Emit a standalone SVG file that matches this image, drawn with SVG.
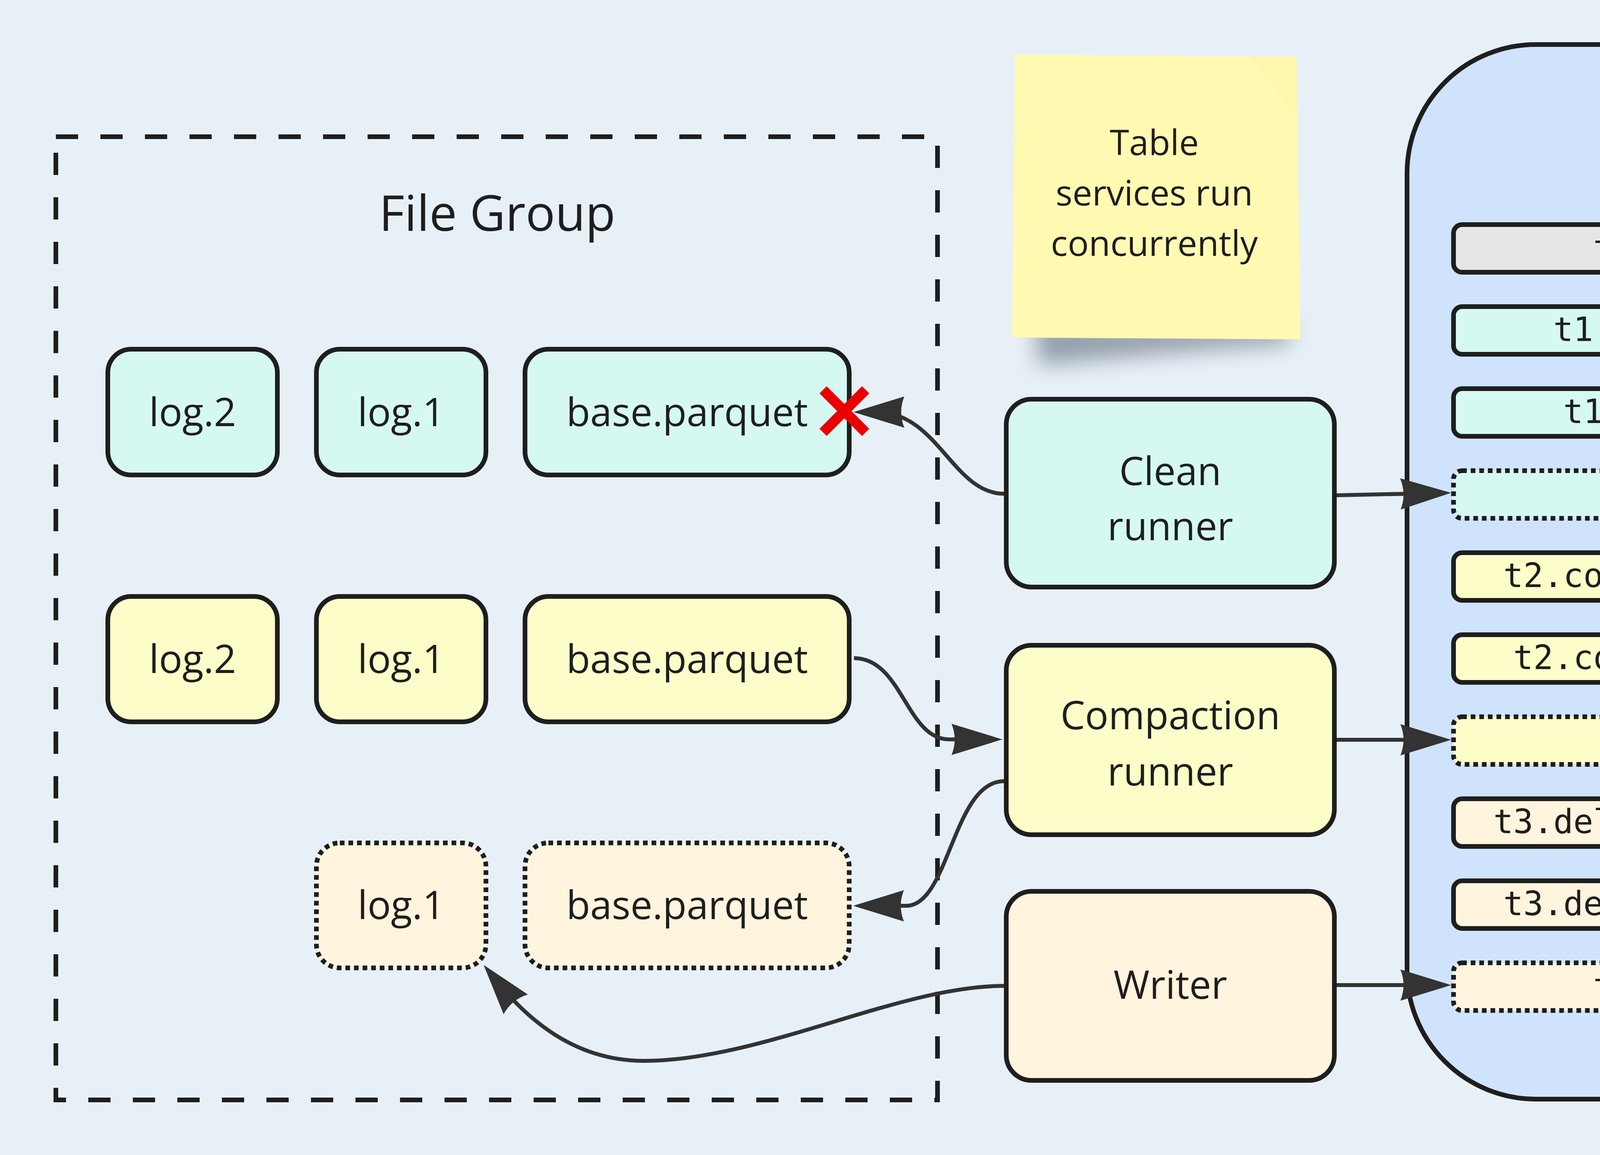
<svg xmlns="http://www.w3.org/2000/svg" width="5409" height="2957" viewBox="0 0 5409 2957">
<style>
.bg{fill:#e8f0f7}
.node{stroke:#1e1e1e;stroke-width:12}
.dotted{stroke-dasharray:12 10}
.cyan{fill:#d6f8f2}
.yellow{fill:#fdfdc9}
.orange{fill:#fff4dd}
.gray{fill:#e6e6e6}
.lbl{font-family:"Open Sans","Noto Sans",sans-serif;font-size:100px;fill:#1e1e1e;text-anchor:middle}
.note{font-size:90px}
.title{font-family:"Open Sans","Noto Sans",sans-serif;font-size:126px;fill:#1e1e1e;text-anchor:middle}
.mono{font-family:"DejaVu Sans Mono","Liberation Mono",monospace;font-size:85px;fill:#1e1e1e;text-anchor:middle}
.edge{fill:none;stroke:#333333;stroke-width:10}
</style>
<defs>
<marker id="ah" markerUnits="userSpaceOnUse" viewBox="-140 -50 150 100" markerWidth="150" markerHeight="100" refX="-60" refY="0" orient="auto">
<path d="M0,0 L-130,-40 Q-114,0 -130,40 Z" fill="#333333"/>
</marker>
<filter id="shadow" x="-30%" y="-150%" width="160%" height="400%">
<feGaussianBlur stdDeviation="28"/>
</filter>
</defs>
<rect class="bg" x="0" y="0" width="5409" height="2957"/>

<g id="file-group">
<rect x="143" y="350" width="2257" height="2466" fill="none" stroke="#1e1e1e" stroke-width="12" stroke-dasharray="57 57"/>
<text class="title" x="1273" y="591">File Group</text>
</g>

<g id="sticky-note">
<path d="M2650,830 L3300,830 L3300,880 Q3000,900 2660,935 Z" fill="#5a6878" opacity="0.6" filter="url(#shadow)"/>
<polygon points="2598,139 3319,146 3329,869 2591,864" fill="#fff9b2"/>
<polygon points="3200,145 3319,146 3322,300" fill="#fcf5aa" opacity="0.7"/>
<text class="lbl note" x="2955" y="397">Table</text>
<text class="lbl note" x="2955" y="526">services run</text>
<text class="lbl note" x="2955" y="655">concurrently</text>
</g>

<g id="timeline">
<rect x="3602" y="114" width="1669" height="2700" rx="330" ry="330" fill="#cfe3fd" stroke="#1e1e1e" stroke-width="12"/>
<text class="title" x="4435" y="325">Timeline</text>
</g>

<g id="t0-deltacommit"><rect class="node gray" x="3721" y="575" width="1432" height="122" rx="22"/><text class="mono" x="4437" y="663">t0.deltacommit</text></g>
<g id="t1-clean-requested"><rect class="node cyan" x="3721" y="785" width="1432" height="122" rx="22"/><text class="mono" x="4437" y="873">t1.clean.requested</text></g>
<g id="t1-clean-inflight"><rect class="node cyan" x="3721" y="995" width="1432" height="122" rx="22"/><text class="mono" x="4437" y="1083">t1.clean.inflight</text></g>
<g id="t1-clean"><rect class="node cyan dotted" x="3721" y="1205" width="1432" height="122" rx="22"/><text class="mono" x="4437" y="1293">t1.clean</text></g>
<g id="t2-compaction-requested"><rect class="node yellow" x="3721" y="1415" width="1432" height="122" rx="22"/><text class="mono" x="4437" y="1503">t2.compaction.requested</text></g>
<g id="t2-compaction-inflight"><rect class="node yellow" x="3721" y="1625" width="1432" height="122" rx="22"/><text class="mono" x="4437" y="1713">t2.compaction.inflight</text></g>
<g id="t2-commit"><rect class="node yellow dotted" x="3721" y="1835" width="1432" height="122" rx="22"/><text class="mono" x="4437" y="1923">t2.commit</text></g>
<g id="t3-deltacommit-requested"><rect class="node orange" x="3721" y="2045" width="1432" height="122" rx="22"/><text class="mono" x="4437" y="2133">t3.deltacommit.requested</text></g>
<g id="t3-deltacommit-inflight"><rect class="node orange" x="3721" y="2255" width="1432" height="122" rx="22"/><text class="mono" x="4437" y="2343">t3.deltacommit.inflight</text></g>
<g id="t3-deltacommit"><rect class="node orange dotted" x="3721" y="2465" width="1432" height="122" rx="22"/><text class="mono" x="4437" y="2553">t3.deltacommit</text></g>

<g id="log2-a"><rect class="node cyan" x="276" y="894" width="434" height="322" rx="60"/><text class="lbl" x="493" y="1091">log.2</text></g>
<g id="log1-a"><rect class="node cyan" x="810" y="894" width="434" height="322" rx="60"/><text class="lbl" x="1027" y="1091">log.1</text></g>
<g id="base-a"><rect class="node cyan" x="1344" y="894" width="830" height="322" rx="60"/><text class="lbl" x="1759" y="1091">base.parquet</text></g>

<g id="log2-b"><rect class="node yellow" x="276" y="1527" width="434" height="321" rx="60"/><text class="lbl" x="493" y="1723">log.2</text></g>
<g id="log1-b"><rect class="node yellow" x="810" y="1527" width="434" height="321" rx="60"/><text class="lbl" x="1027" y="1723">log.1</text></g>
<g id="base-b"><rect class="node yellow" x="1344" y="1527" width="830" height="321" rx="60"/><text class="lbl" x="1759" y="1723">base.parquet</text></g>

<g id="log1-c"><rect class="node orange dotted" x="810" y="2158" width="434" height="320" rx="60"/><text class="lbl" x="1027" y="2353">log.1</text></g>
<g id="base-c"><rect class="node orange dotted" x="1344" y="2158" width="830" height="320" rx="60"/><text class="lbl" x="1759" y="2353">base.parquet</text></g>

<g id="clean-runner"><rect class="node cyan" x="2576" y="1022" width="840" height="481" rx="65"/><text class="lbl" x="2996" y="1242">Clean</text><text class="lbl" x="2996" y="1383">runner</text></g>
<g id="compaction-runner"><rect class="node yellow" x="2576" y="1652" width="840" height="485" rx="65"/><text class="lbl" x="2996" y="1867">Compaction</text><text class="lbl" x="2996" y="2011">runner</text></g>
<g id="writer"><rect class="node orange" x="2576" y="2282" width="840" height="484" rx="65"/><text class="lbl" x="2996" y="2557">Writer</text></g>

<g id="connectors">
<path class="edge" marker-end="url(#ah)" d="M2570,1264 C2440,1264 2400,1055 2245,1055"/>
<path class="edge" marker-end="url(#ah)" d="M2186,1685 C2310,1685 2320,1893 2430,1893 L2506,1893"/>
<path class="edge" marker-end="url(#ah)" d="M2570,2000 C2440,2000 2430,2319 2320,2319 L2244,2319"/>
<path class="edge" marker-end="url(#ah)" d="M2570,2524 C2300,2524 1950,2716 1648,2716 C1480,2716 1360,2620 1276,2517"/>
<path class="edge" marker-end="url(#ah)" d="M3422,1268 L3655,1263"/>
<path class="edge" marker-end="url(#ah)" d="M3422,1894 L3655,1894"/>
<path class="edge" marker-end="url(#ah)" d="M3422,2522 L3655,2522"/>
</g>

<g id="delete-mark">
<line x1="2107" y1="998" x2="2216" y2="1107" stroke="#ea0000" stroke-width="26"/>
<line x1="2216" y1="998" x2="2107" y2="1107" stroke="#ea0000" stroke-width="26"/>
</g>
</svg>
